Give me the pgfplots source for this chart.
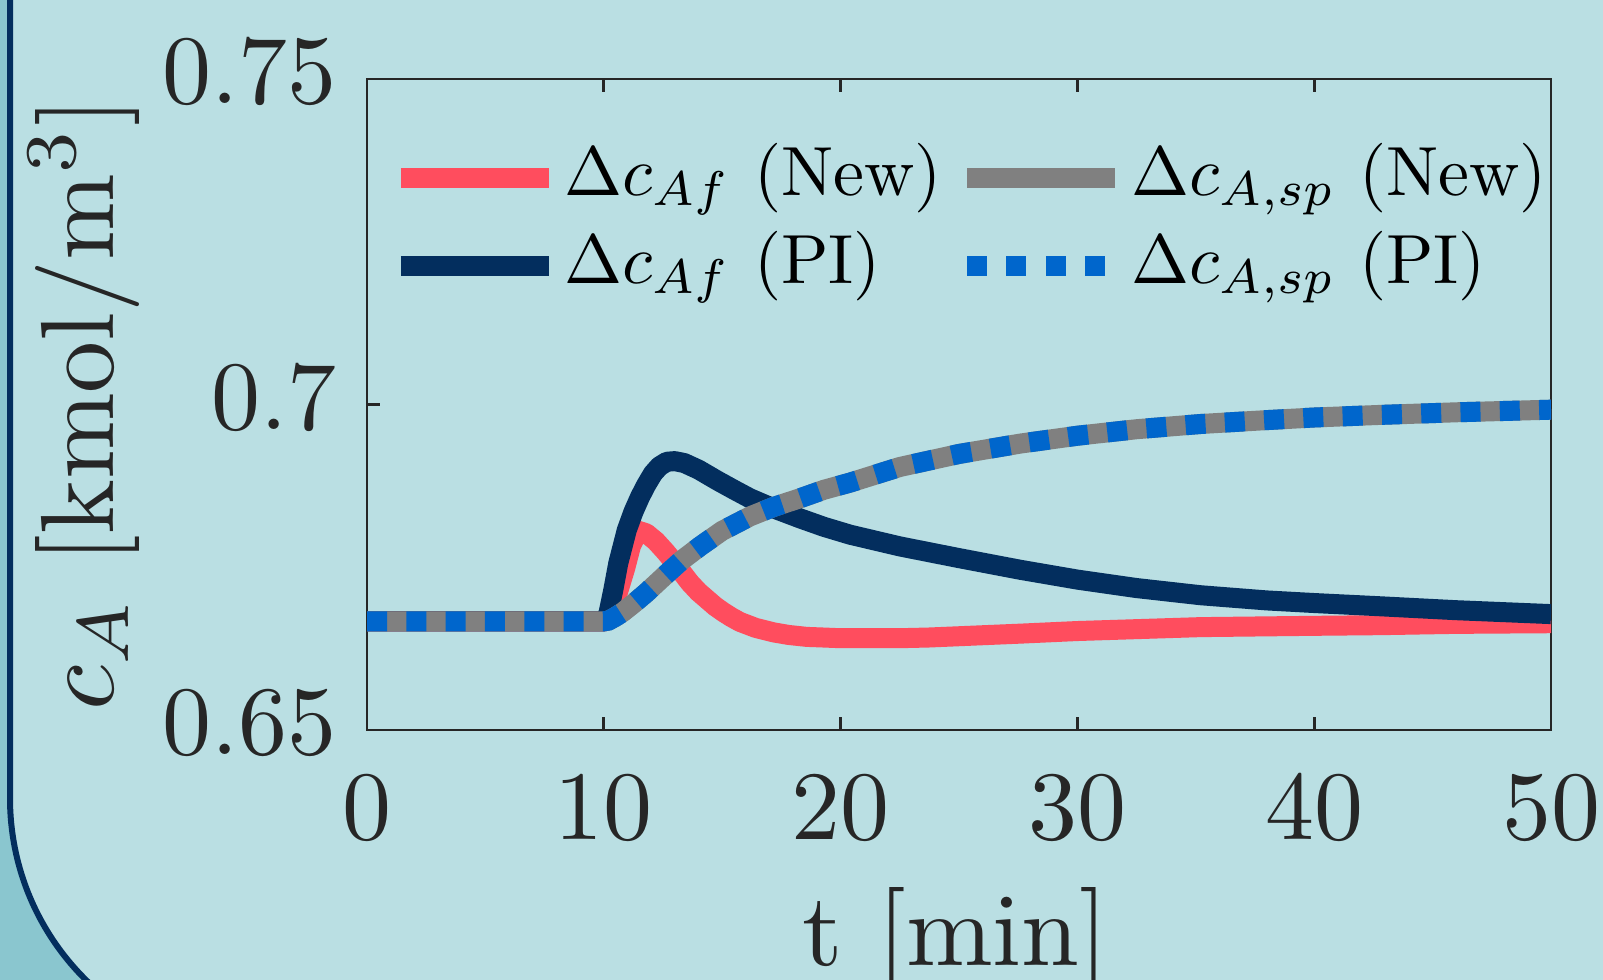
\documentclass[border=0pt]{standalone}
\usepackage{graphicx}
\usepackage{pgfplots}
\usepackage{pgfplotstable}
\pgfplotsset{compat=1.18}
\definecolor{bgc}{HTML}{BADFE3}
\definecolor{outc}{HTML}{8AC6CF}
\definecolor{navy}{HTML}{032E5E}
\definecolor{cred}{HTML}{FF4D5E}
\definecolor{cgray}{HTML}{808080}
\definecolor{cblue}{HTML}{0066CC}
\definecolor{axc}{HTML}{262626}

\pgfplotstableread{
t v
0 0.6667
10 0.6667
10.2 0.6668
10.5 0.6674
10.8 0.6681
11.25 0.6694
11.8 0.6711
12.66 0.6740
13.3 0.6761
14.06 0.6782
15.0 0.6806
16.17 0.6828
17.2 0.6843
18.29 0.6856
19.3 0.6869
20.4 0.6880
22.5 0.6904
25 0.6924
27.6 0.6940
30 0.6952
32.5 0.6962
35.2 0.6970
38 0.6976
40 0.6980
42.8 0.6984
46 0.6988
50 0.6992
}\setpoint

\pgfplotstableread{
t v
0 0.6667
10.05 0.6667
10.2 0.6680
10.4 0.6715
10.61 0.6756
10.97 0.6807
11.25 0.6835
11.53 0.6858
11.8 0.6877
12.08 0.6894
12.35 0.6905
12.66 0.6912
13.0 0.6913
13.4 0.6910
14.0 0.6900
14.8 0.6883
15.5 0.6869
16.17 0.6856
17.2 0.6840
18.29 0.6825
19.3 0.6812
20.4 0.6800
22.5 0.6782
25 0.6764
27.6 0.6746
30 0.6731
32.5 0.6718
35.2 0.6707
38 0.6699
40 0.6695
42.8 0.6690
46 0.6684
50 0.6678
}\pidata

\pgfplotstableread{
t v
0 0.6667
10.05 0.6667
10.3 0.6682
10.6 0.6712
10.9 0.6748
11.15 0.6783
11.46 0.6806
11.8 0.6802
12.2 0.6790
12.6 0.6774
12.94 0.6759
13.3 0.6742
13.64 0.6726
14.0 0.6712
14.35 0.6701
14.7 0.6690
15.05 0.6681
15.4 0.6673
15.75 0.6666
16.4 0.6657
17.16 0.6650
17.8 0.6646
18.57 0.6643
19.3 0.6642
19.97 0.6641
21.38 0.6641
22.5 0.6641
23.7 0.6642
25 0.6644
27.6 0.6648
30 0.6652
35.2 0.6658
40 0.6660
42.8 0.6661
46 0.6663
50 0.6664
}\newdata

\begin{document}
\begin{tikzpicture}
\useasboundingbox (0,0) rectangle (400.75pt,245pt);
\clip (0,0) rectangle (400.75pt,245pt);
\fill[outc] (0,0) rectangle (400.75pt,245pt);
\fill[bgc, rounded corners=64pt] (2.5pt,300pt) -- (2.5pt,-18.5pt) -- (450pt,-18.5pt) -- (450pt,300pt) -- cycle;
\draw[navy, line width=1.5pt, rounded corners=64pt] (2.5pt,300pt) -- (2.5pt,-18.5pt) -- (450pt,-18.5pt);
\begin{axis}[
  at={(91.75pt,62.5pt)}, anchor=south west,
  scale only axis, width=296pt, height=162.75pt,
  xmin=0, xmax=50, ymin=0.65, ymax=0.75,
  xtick={0,10,20,30,40,50}, ytick={0.65,0.7,0.75},
  xticklabel={\scalebox{2.45}{$\pgfmathprintnumber{\tick}$}},
  yticklabels={\scalebox{2.45}{$0.65$},\scalebox{2.45}{$0.7$},\scalebox{2.45}{$0.75$}},
  tick align=inside, tick pos=both, major tick length=3.25pt,
  line width=0.7pt,
  axis line style={draw=axc},
  tick style={draw=axc, line width=0.7pt},
  ticklabel style={text=axc},
  xticklabel style={yshift=-7.9pt},
  yticklabel style={xshift=-3.9pt, yshift=1.7pt},
  xlabel={\scalebox{2.6}{t [min]}},
  ylabel={\scalebox{2.6}{$c_A$ [kmol/m$^3$]}},
  label style={text=axc},
  xlabel style={at={(axis description cs:0.497,-0.3625)}, anchor=base},
  ylabel style={at={(axis description cs:-0.2145,0.5)}, anchor=base},
  legend columns=2, transpose legend,
  legend cell align=left,
  legend style={draw=none, fill=none, inner sep=0pt,
    at={(rel axis cs:0.0189,0.7803)}, anchor=west,
    nodes={inner ysep=0pt, inner xsep=1.5pt, text height=13pt, text depth=4.4pt},
    row sep=4.5pt,
    /tikz/every even column/.append style={column sep=2.4pt}},
  legend image code/.code={\draw[#1] (0pt,0pt) -- (37pt,0pt);},
]
\addplot[cred, line width=5pt, line join=round] table[x=t,y=v] {\newdata};
\addlegendentry{\scalebox{1.74}{$\Delta c_{Af}$ (New)}}
\addplot[navy, line width=5pt, line join=round] table[x=t,y=v] {\pidata};
\addlegendentry{\scalebox{1.74}{$\Delta c_{Af}$ (PI)}}
\addplot[cgray, line width=5pt, line join=round] table[x=t,y=v] {\setpoint};
\addlegendentry{\scalebox{1.74}{$\Delta c_{A,sp}$ (New)}}
\addplot[cblue, line width=5pt, dash pattern=on 5pt off 4.83pt]
  table[x=t,y=v] {\setpoint};
\addlegendentry{\scalebox{1.74}{$\Delta c_{A,sp}$ (PI)}}
\end{axis}
\end{tikzpicture}
\end{document}
